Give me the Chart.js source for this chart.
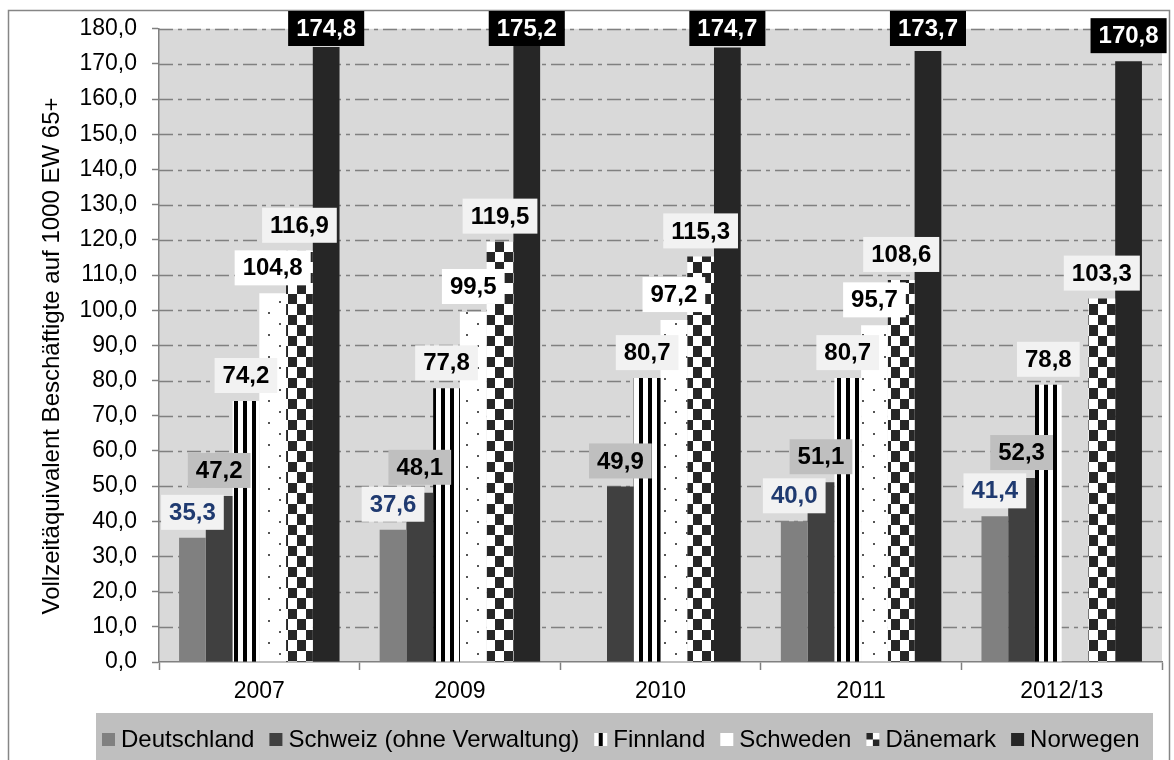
<!DOCTYPE html>
<html>
<head>
<meta charset="utf-8">
<script src="https://cdn.jsdelivr.net/npm/chart.js@4.4.1/dist/chart.umd.min.js"></script>
<style>
  html, body { margin: 0; padding: 0; background: #ffffff; }
  canvas { display: block; }
</style>
</head>
<body>
<canvas id="chart" width="1174" height="760"></canvas>
<script>
// Categories (survey years)
const years = ['2007', '2009', '2010', '2011', '2012/13'];

// Full-time equivalent staff per 1000 inhabitants aged 65+
const deutschland = [35.3, 37.6, null, 40.0, 41.4];
const schweiz     = [47.2, 48.1, 49.9, 51.1, 52.3];
const finnland    = [74.2, 77.8, 80.7, 80.7, 78.8];
const schweden    = [104.8, 99.5, 97.2, 95.7, null];
const daenemark   = [116.9, 119.5, 115.3, 108.6, 103.3];
const norwegen    = [174.8, 175.2, 174.7, 173.7, 170.8];

// Series names
const seriesNames = ['Deutschland', 'Schweiz (ohne Verwaltung)', 'Finnland', 'Schweden', 'Dänemark', 'Norwegen'];

// Value axis
const yMin = 0;
const yMax = 180;
const yStep = 10;

const fmt = v => v.toFixed(1).replace('.', ',');
const FONT = '"Liberation Sans", Arial, sans-serif';

const canvas = document.getElementById('chart');
const mainCtx = canvas.getContext('2d');

function makePattern(w, h, paint) {
  const c = document.createElement('canvas');
  c.width = w; c.height = h;
  const g = c.getContext('2d');
  paint(g, w, h);
  return mainCtx.createPattern(c, 'repeat');
}

// vertical stripes
const stripePattern = makePattern(9, 9, (g, w, h) => {
  g.fillStyle = '#ffffff'; g.fillRect(0, 0, w, h);
  g.fillStyle = '#000000'; g.fillRect(0, 0, 4, h);
});
// sparse dots
const dotPattern = makePattern(22, 22, (g, w, h) => {
  g.fillStyle = '#ffffff'; g.fillRect(0, 0, w, h);
  g.fillStyle = '#555555';
  g.fillRect(4, 4, 2, 2);
  g.fillRect(15, 15, 2, 2);
});
// checkerboard
const checkerPattern = makePattern(18, 21, (g, w, h) => {
  g.fillStyle = '#ffffff'; g.fillRect(0, 0, w, h);
  g.fillStyle = '#262626';
  g.fillRect(0, 0, 9, 10);
  g.fillRect(9, 10, 9, 11);
});

const fills = ['#808080', '#404040', stripePattern, dotPattern, checkerPattern, '#262626'];
const labelBoxes = [
  { bg: '#f2f2f2', fg: '#1f3a70' },
  { bg: '#bfbfbf', fg: '#000000' },
  { bg: '#f2f2f2', fg: '#000000' },
  { bg: '#ffffff', fg: '#000000' },
  { bg: '#f2f2f2', fg: '#000000' },
  { bg: '#000000', fg: '#ffffff' }
];
const seriesData = [deutschland, schweiz, finnland, schweden, daenemark, norwegen];

const datasets = seriesData.map((d, i) => ({
  label: seriesNames[i],
  data: d,
  backgroundColor: fills[i],
  borderWidth: 0,
  barPercentage: 1.0,
  categoryPercentage: 0.8,
  labelBg: labelBoxes[i].bg,
  labelFg: labelBoxes[i].fg
}));

// Backgrounds, frame, legend, gridlines and axis title
const decorPlugin = {
  id: 'decor',
  beforeDraw(chart) {
    const ctx = chart.ctx;
    const a = chart.chartArea;
    ctx.save();
    ctx.fillStyle = '#ffffff';
    ctx.fillRect(0, 0, chart.width, chart.height);
    // outer frame
    ctx.strokeStyle = '#868686';
    ctx.lineWidth = 1.5;
    ctx.strokeRect(8.5, 10.5, 1161, 800);
    // plot background
    ctx.fillStyle = '#d9d9d9';
    ctx.fillRect(a.left, a.top, a.right - a.left, a.bottom - a.top);

    // legend
    ctx.fillStyle = '#bfbfbf';
    ctx.fillRect(96, 713, 1057, 60);
    ctx.font = '24px ' + FONT;
    ctx.textBaseline = 'middle';
    ctx.textAlign = 'left';
    let x = 102;
    const cy = 739.5;
    const m = 13;
    chart.data.datasets.forEach((ds, i) => {
      const mx = x, my = cy - m / 2;
      if (i === 2) {
        ctx.fillStyle = '#ffffff'; ctx.fillRect(mx, my, m, m);
        ctx.fillStyle = '#000000'; ctx.fillRect(mx + 4.5, my, 4, m);
      } else if (i === 3) {
        ctx.fillStyle = '#ffffff'; ctx.fillRect(mx, my, m, m);
      } else if (i === 4) {
        ctx.fillStyle = '#ffffff'; ctx.fillRect(mx, my, m, m);
        ctx.fillStyle = '#262626';
        ctx.fillRect(mx, my, 6.5, 6.5);
        ctx.fillRect(mx + 6.5, my + 6.5, 6.5, 6.5);
      } else {
        ctx.fillStyle = ds.backgroundColor; ctx.fillRect(mx, my, m, m);
      }
      ctx.fillStyle = '#000000';
      ctx.fillText(ds.label, x + 19, cy + 1);
      x += 19 + ctx.measureText(ds.label).width + 15;
    });

    // y axis title
    ctx.translate(59, 356);
    ctx.rotate(-Math.PI / 2);
    ctx.textAlign = 'center';
    ctx.textBaseline = 'alphabetic';
    ctx.font = '24px ' + FONT;
    ctx.fillStyle = '#000000';
    ctx.fillText('Vollzeitäquivalent Beschäftigte auf 1000 EW 65+', 0, 0);
    ctx.restore();
  },
  beforeDatasetsDraw(chart) {
    // dash-dot horizontal gridlines at each value tick
    const ctx = chart.ctx;
    const a = chart.chartArea;
    const ys = chart.scales.y;
    ctx.save();
    ctx.strokeStyle = '#808080';
    ctx.lineWidth = 1.5;
    ctx.setLineDash([14, 5, 4, 5]);
    ys.ticks.forEach(t => {
      if (t.value === yMin) return;
      const py = Math.round(ys.getPixelForValue(t.value)) + 0.5;
      ctx.beginPath();
      ctx.moveTo(a.left, py);
      ctx.lineTo(a.right, py);
      ctx.stroke();
    });
    ctx.restore();
  }
};

// Value labels in boxes above each bar
const valueLabelPlugin = {
  id: 'valueLabels',
  afterDatasetsDraw(chart) {
    const ctx = chart.ctx;
    ctx.save();
    ctx.font = 'bold 24px ' + FONT;
    ctx.textAlign = 'center';
    ctx.textBaseline = 'middle';
    chart.data.datasets.forEach((ds, i) => {
      const meta = chart.getDatasetMeta(i);
      meta.data.forEach((bar, j) => {
        const v = ds.data[j];
        if (v === null || v === undefined) return;
        const text = fmt(v);
        const tw = ctx.measureText(text).width;
        const bw = tw + 16;
        const bh = 35;
        let y0 = bar.y - 8 - bh;
        if (y0 < 11) y0 = 11;
        ctx.fillStyle = ds.labelBg;
        ctx.fillRect(bar.x - bw / 2, y0, bw, bh);
        ctx.fillStyle = ds.labelFg;
        ctx.fillText(text, bar.x, y0 + bh / 2 + 1);
      });
    });
    ctx.restore();
  }
};

new Chart(canvas, {
  type: 'bar',
  data: { labels: years, datasets },
  options: {
    responsive: false,
    animation: false,
    events: [],
    layout: { padding: { left: 0, top: 23, right: 12, bottom: 58 } },
    plugins: {
      legend: { display: false },
      tooltip: { enabled: false },
      title: { display: false }
    },
    scales: {
      x: {
        offset: true,
        grid: {
          offset: true,
          drawOnChartArea: false,
          drawTicks: true,
          tickLength: 8,
          tickColor: '#808080',
          tickWidth: 1.5,
          color: '#808080'
        },
        border: { display: true, color: '#808080', width: 1.5 },
        ticks: {
          color: '#000000',
          font: { family: FONT, size: 23 },
          padding: 8,
          maxRotation: 0
        },
        afterFit(scale) { scale.height = 40; }
      },
      y: {
        min: yMin,
        max: yMax,
        grid: {
          drawOnChartArea: false,
          drawTicks: true,
          tickLength: 7,
          tickColor: '#808080',
          tickWidth: 1.5,
          color: '#808080'
        },
        border: { display: true, color: '#808080', width: 1.5 },
        ticks: {
          stepSize: yStep,
          color: '#000000',
          font: { family: FONT, size: 23 },
          padding: 15,
          callback: v => fmt(v)
        },
        afterFit(scale) { scale.width = 159; }
      }
    }
  },
  plugins: [decorPlugin, valueLabelPlugin]
});
</script>
</body>
</html>
